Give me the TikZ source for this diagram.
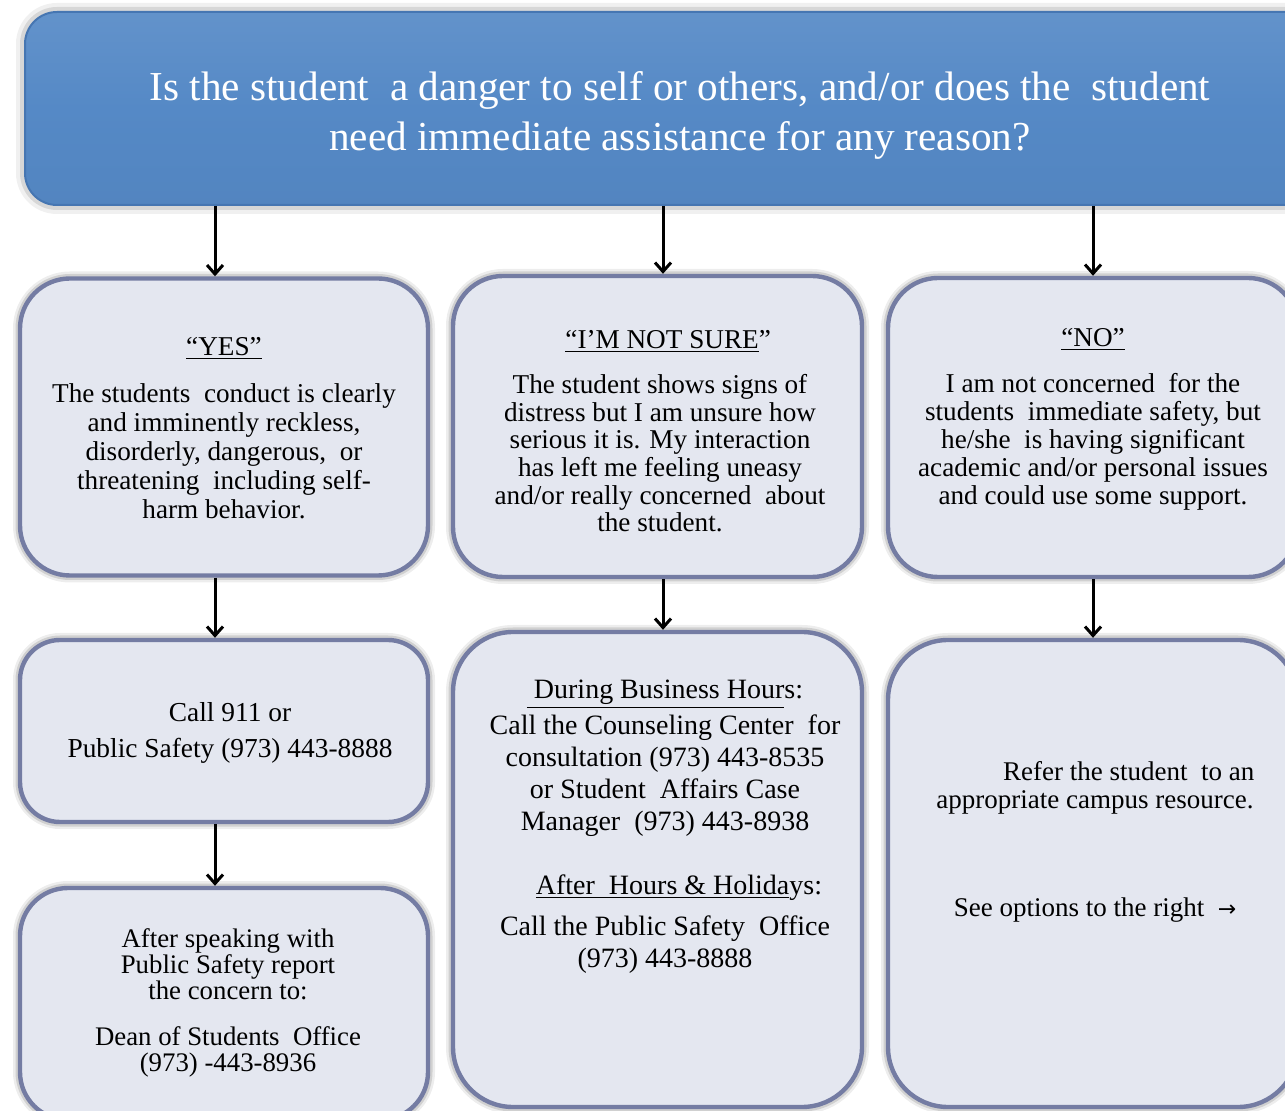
\documentclass[tikz,border=0pt]{standalone}
\usepackage{fontspec}
\setmainfont{Liberation Serif}
\newfontfamily\symfont{DejaVu Sans}
\usetikzlibrary{arrows.meta,shadows}
\definecolor{topblue}{HTML}{5589C6}
\definecolor{topedge}{HTML}{4676B2}
\definecolor{boxfill}{HTML}{E4E7F0}
\definecolor{boxedge}{HTML}{747CA3}
\tikzset{
  topbox/.style={draw=topedge, line width=1pt, top color=topblue!92!white, bottom color=topblue!97!black, middle color=topblue,
    rounded corners=16pt, inner sep=0pt,
    preaction={draw=black, line width=9pt, draw opacity=0.06},
    preaction={draw=black, line width=5pt, draw opacity=0.10}},
  box/.style={draw=boxedge, fill=boxfill, line width=2.2pt, rounded corners=24pt, inner sep=0pt,
    preaction={draw=black, line width=7pt, draw opacity=0.07},
    preaction={draw=black, line width=4.5pt, draw opacity=0.12}},
  txt/.style={align=center, inner sep=0pt, text=black, font=\fontsize{13.6}{14.5}\selectfont},
  toptxt/.style={align=center, inner sep=0pt, text=white, font=\fontsize{20.6}{25}\selectfont},
  arr/.style={-{Straight Barb[length=4.5pt,width=8pt]}, line width=1.5pt, black}
}
\begin{document}
\begin{tikzpicture}[x=0.5pt,y=-0.5pt]
\useasboundingbox (0,0) rectangle (1285,1111);
\fill[white] (0,0) rectangle (1285,1111);
\begin{scope}
\clip (0,0) rectangle (1285,1111);
% top question
\node[topbox, minimum width=650pt, minimum height=96.5pt] (q) at (675,108.5) {};
\node[toptxt] (qt) at (680,115) {Is the student \ a danger to self or others, and/or does the \ student\\ need immediate assistance for any reason?};
% row 1
\node[box, minimum width=204pt, minimum height=148.5pt, rounded corners=25pt] (yes) at (224,427) {};
\node[box, minimum width=204.5pt, minimum height=150.5pt, rounded corners=25pt] (ns) at (657.5,426.5) {};
\node[box, minimum width=205pt, minimum height=149.5pt, rounded corners=25pt] (no) at (1093,427.5) {};
% row 2
\node[box, minimum width=204pt, minimum height=91pt, rounded corners=20pt] (call) at (224,731) {};
\node[box, minimum width=204.5pt, minimum height=237.5pt, rounded corners=30pt] (bh) at (657.5,869.5) {};
\node[box, minimum width=205pt, minimum height=233.5pt, rounded corners=30pt] (refer) at (1093,873.5) {};
% row 3
\node[box, minimum width=204pt, minimum height=116pt, rounded corners=24pt] (dean) at (224,1004) {};
% texts
\node[txt] (yesT) at (224,428) {\underline{“YES”}\\[9pt]
  The students \ conduct is clearly\\ and imminently reckless,\\ disorderly, dangerous, \ or\\ threatening \ including self-\\ harm behavior.};
\node[txt, font=\fontsize{13.6}{13.8}\selectfont] (nsT) at (660,431) {\hspace*{0.6em}\underline{“I’M NOT SURE}”\\[9pt]
  The student shows signs of\\ distress but I am unsure how\\ serious it is. My interaction\\ has left me feeling uneasy\\ and/or really concerned \ about\\ the student.};
\node[txt, font=\fontsize{13.6}{14}\selectfont] (noT) at (1093,419) {\underline{“NO”}\\[9pt]
  I am not concerned \ for the\\ students \ immediate safety, but\\ he/she \ is having significant\\ academic and/or personal issues\\ and could use some support.};
\node[txt, font=\fontsize{13.7}{18}\selectfont] (callT) at (230,733) {Call 911 or\\ Public Safety (973) 443-8888};
\node[txt, font=\fontsize{14}{16}\selectfont] (bhT) at (665,827) {\underline{\ During Business Hour}s:\\[2pt]
  Call the Counseling Center \ for\\ consultation (973) 443-8535\\ or Student \ Affairs Case\\ Manager \ (973) 443-8938\\[16pt]
  \hspace*{1em}\underline{After \ Hours \& Holida}ys:\\[4.5pt]
  Call the Public Safety \ Office\\ (973) 443-8888};
\node[txt, font=\fontsize{13.5}{14}\selectfont] (referT) at (1095,842) {\hspace*{2.5em}Refer the student \ to an\\ appropriate campus resource.\\[40pt]
  See options to the right \ {\symfont\fontsize{11}{14}\selectfont →}};
\node[txt, font=\fontsize{13.4}{13}\selectfont] (deanT) at (228,1003) {After speaking with\\ Public Safety report\\ the concern to:\\[10pt]
  Dean of Students \ Office\\ (973) -443-8936};
% arrows
\draw[arr] ([xshift=-4.5pt]q.south -| yes.north) -- ([xshift=-4.5pt]yes.north);
\draw[arr] ([xshift=2.75pt]q.south -| ns.north) -- ([xshift=2.75pt]ns.north);
\draw[arr] (q.south -| no.north) -- (no.north);
\draw[arr] ([xshift=-4.5pt]yes.south) -- ([xshift=-4.5pt]call.north);
\draw[arr] ([xshift=2.75pt]ns.south) -- ([xshift=2.75pt]bh.north);
\draw[arr] (no.south) -- (refer.north);
\draw[arr] ([xshift=-4.5pt]call.south) -- ([xshift=-4.5pt]dean.north);
\end{scope}
\end{tikzpicture}
\end{document}
